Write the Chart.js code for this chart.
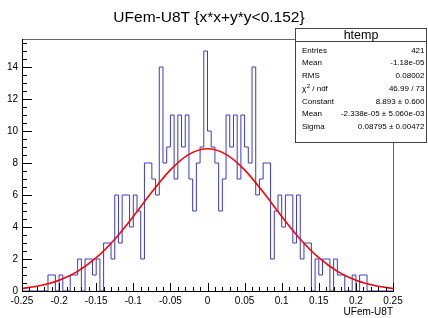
<!DOCTYPE html>
<html><head><meta charset="utf-8">
<script src="https://cdn.jsdelivr.net/npm/chart.js@4"></script>
<style>html,body{margin:0;padding:0;background:#fff}canvas{display:block}</style>
</head><body>
<canvas id="c" width="428" height="318"></canvas>
<script>
// ---------- data ----------
const chartTitle = "UFem-U8T {x*x+y*y<0.152}";
const xAxisTitle = "UFem-U8T";
const histMin = -0.25;
const histMax = 0.25;
const binCounts = [
  0,0,0,0,0,0,0,1,1,0,
  1,0,0,1,1,2,0,2,2,1,
  2,0,3,3,2,6,3,6,6,4,
  6,5,2,8,8,7,6,14,8,9,
  11,7,11,9,11,7,5,8,9,15,
  10,9,8,5,7,11,9,11,7,11,
  9,8,14,6,7,8,8,2,5,6,
  4,6,6,3,6,2,3,3,0,2,
  1,2,2,0,2,1,1,0,0,1,
  0,1,1,0,0,0,0,0,0,0
];
const fitX = [-0.25,-0.225,-0.2,-0.175,-0.15,-0.125,-0.1,-0.075,-0.05,-0.025,0,
              0.025,0.05,0.075,0.1,0.125,0.15,0.175,0.2,0.225,0.25];
const fitY = [0.157,0.34,0.67,1.23,2.08,3.24,4.66,6.18,7.57,8.54,8.89,
              8.54,7.57,6.18,4.66,3.24,2.08,1.23,0.67,0.34,0.157];
const xTickValues = [-0.25,-0.2,-0.15,-0.1,-0.05,0,0.05,0.1,0.15,0.2,0.25];
const xTickLabels = ["-0.25","-0.2","-0.15","-0.1","-0.05","0","0.05","0.1","0.15","0.2","0.25"];
const yTickValues = [0,2,4,6,8,10,12,14];
const yTickLabels = ["0","2","4","6","8","10","12","14"];
const yMax = 15.75;
const statsName = "htemp";
const statsLabels = ["Entries","Mean","RMS","CHI","Constant","Mean","Sigma"];
const statsValues = ["421","-1.18e-05","0.08002","46.99 / 73","8.893 \u00b1 0.600","-2.338e-05 \u00b1 5.060e-03","0.08795 \u00b1 0.00472"];

// ---------- build ----------
const FONT = '"Liberation Sans", Arial, Helvetica, sans-serif';
const binWidth = (histMax - histMin) / binCounts.length;
const histData = binCounts.map((c, i) => ({x: histMin + i * binWidth, y: c}));
histData.push({x: histMax, y: binCounts[binCounts.length - 1]});
const fitData = fitX.map((x, i) => ({x: x, y: fitY[i]}));

const rootStyle = {
  id: 'rootStyle',
  afterDraw(chart) {
    const ctx = chart.ctx, a = chart.chartArea, xs = chart.scales.x, ys = chart.scales.y;
    ctx.save();
    // frame (top/right)
    ctx.lineWidth = 1;
    ctx.strokeStyle = '#666';
    ctx.beginPath();
    ctx.moveTo(a.left, a.top + 0.5); ctx.lineTo(a.right + 0.5, a.top + 0.5); ctx.lineTo(a.right + 0.5, a.bottom);
    ctx.stroke();
    // axes
    ctx.strokeStyle = '#000';
    ctx.beginPath();
    ctx.moveTo(a.left + 0.5, a.top); ctx.lineTo(a.left + 0.5, a.bottom + 0.5); ctx.lineTo(a.right + 1, a.bottom + 0.5);
    // x ticks
    for (let k = 0; k <= 50; k++) {
      const v = histMin + k * 0.01;
      const px = Math.round(xs.getPixelForValue(v)) + 0.5;
      const len = (k % 5 === 0) ? 8 : 4;
      ctx.moveTo(px, a.bottom); ctx.lineTo(px, a.bottom - len);
    }
    // y ticks
    for (let k = 0; k * 0.5 <= yMax; k++) {
      const v = k * 0.5;
      const py = Math.round(ys.getPixelForValue(v)) + 0.5;
      const len = (k % 4 === 0) ? 10 : 5;
      ctx.moveTo(a.left, py); ctx.lineTo(a.left + len, py);
    }
    ctx.stroke();
    // title
    ctx.fillStyle = '#000';
    ctx.font = '15.5px ' + FONT;
    ctx.textAlign = 'center'; ctx.textBaseline = 'middle';
    ctx.fillText(chartTitle, 209, 18);
    // x axis title
    ctx.font = '10px ' + FONT;
    ctx.textAlign = 'right';
    ctx.fillText(xAxisTitle, a.right, 312);
    // stats box
    const bx = 295.5, by = 28.5, bw = 131, bh = 114;
    ctx.fillStyle = '#fff';
    ctx.fillRect(bx, by, bw, bh);
    ctx.strokeStyle = '#444';
    ctx.strokeRect(bx, by, bw, bh);
    ctx.beginPath(); ctx.moveTo(bx, 41.5); ctx.lineTo(bx + bw, 41.5); ctx.stroke();
    ctx.fillStyle = '#000';
    ctx.font = '12.5px ' + FONT;
    ctx.textAlign = 'center';
    ctx.fillText(statsName, bx + bw / 2, 35.5);
    ctx.font = '8px ' + FONT;
    for (let i = 0; i < statsLabels.length; i++) {
      const ty = 50.5 + i * 12.75;
      ctx.textAlign = 'left';
      if (statsLabels[i] === 'CHI') {
        let tx = 302;
        ctx.fillText('\u03c7', tx, ty); tx += ctx.measureText('\u03c7').width;
        ctx.font = '6px ' + FONT;
        ctx.fillText('2', tx + 0.5, ty - 2.5); tx += ctx.measureText('2').width + 0.5;
        ctx.font = '8px ' + FONT;
        ctx.fillText(' / ndf', tx, ty);
      } else {
        ctx.fillText(statsLabels[i], 302, ty);
      }
      ctx.textAlign = 'right';
      ctx.fillText(statsValues[i], 424.5, ty);
    }
    ctx.restore();
  }
};

new Chart(document.getElementById('c'), {
  type: 'line',
  data: {
    datasets: [
      {data: fitData, borderColor: '#ff0000', borderWidth: 1.6, pointRadius: 0,
       cubicInterpolationMode: 'monotone', fill: false, order: 0},
      {data: histData, borderColor: '#3a3ac8', borderWidth: 1, pointRadius: 0,
       stepped: 'before', tension: 0, fill: false, order: 1}
    ]
  },
  options: {
    responsive: false,
    animation: false,
    devicePixelRatio: 1,
    layout: {padding: {left: 0, right: 35, top: 39, bottom: 0}},
    plugins: {legend: {display: false}, tooltip: {enabled: false}, title: {display: false}},
    scales: {
      x: {
        type: 'linear', min: histMin, max: histMax,
        grid: {display: false, drawTicks: false},
        border: {display: false},
        afterBuildTicks: s => { s.ticks = xTickValues.map(v => ({value: v})); },
        afterFit: s => { s.height = 27; },
        ticks: {
          autoSkip: false, maxRotation: 0, padding: 4, color: '#000',
          font: {family: FONT, size: 10},
          callback: (v) => { const i = xTickValues.findIndex(t => Math.abs(t - v) < 1e-9); return i >= 0 ? xTickLabels[i] : ''; }
        }
      },
      y: {
        type: 'linear', min: 0, max: yMax,
        grid: {display: false, drawTicks: false},
        border: {display: false},
        afterBuildTicks: s => { s.ticks = yTickValues.map(v => ({value: v})); },
        afterFit: s => { s.width = 22; },
        ticks: {
          autoSkip: false, padding: 4, color: '#000',
          font: {family: FONT, size: 10},
          callback: (v) => { const i = yTickValues.indexOf(v); return i >= 0 ? yTickLabels[i] : ''; }
        }
      }
    }
  },
  plugins: [rootStyle]
});
</script>
</body></html>
